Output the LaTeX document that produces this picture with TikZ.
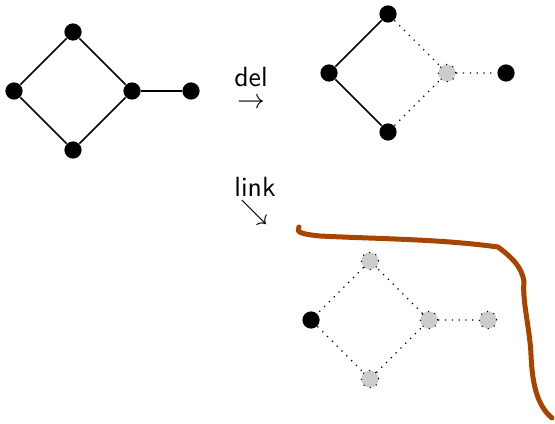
\documentclass[tikz,border=0pt]{standalone}
\begin{document}
\begin{tikzpicture}[x=0.36pt,y=-0.36pt,
  vtx/.style={circle,fill=black,inner sep=0pt,minimum size=6.2pt},
  gvtx/.style={circle,fill=black!20,draw=black,dotted,inner sep=0pt,minimum size=6.2pt},
  edge/.style={line width=0.6pt},
  gone/.style={dotted,line width=0.45pt},
  lbl/.style={font=\sffamily,inner sep=0pt},
  stroke/.style={line width=1.8pt,draw={rgb,255:red,166;green,68;blue,0},line cap=round,line join=round}]
\useasboundingbox (0,0) rectangle (555,423);

% original graph
\node[vtx] (a1) at (73,32) {};
\node[vtx] (a2) at (14,91) {};
\node[vtx] (a3) at (132,91) {};
\node[vtx] (a4) at (73,150) {};
\node[vtx] (a5) at (191,91) {};
\draw[edge] (a1) -- (a2) (a2) -- (a4) (a4) -- (a3) (a3) -- (a1) (a3) -- (a5);

% deletion
\node[lbl,anchor=base] (del) at (251,86) {del};
\node[inner sep=0pt] (delarr) at (251,103) {$\rightarrow$};

\node[vtx] (b1) at (388,14) {};
\node[vtx] (b2) at (329,73) {};
\node[vtx] (b4) at (388,132) {};
\node[gvtx] (b3) at (447,73) {};
\node[vtx] (b5) at (506,73) {};
\draw[edge] (b1) -- (b2) (b2) -- (b4);
\draw[gone] (b1) -- (b3) (b4) -- (b3) (b3) -- (b5);

% link
\node[lbl,anchor=base] (link) at (255,196) {link};
\node[inner sep=0pt] (linkarr) at (254,213) {$\searrow$};

\node[gvtx] (c1) at (370,261) {};
\node[vtx] (c2) at (311,320) {};
\node[gvtx] (c4) at (370,379) {};
\node[gvtx] (c3) at (429,320) {};
\node[gvtx] (c5) at (488,320) {};
\draw[gone] (c1) -- (c2) (c2) -- (c4) (c4) -- (c3) (c3) -- (c1) (c3) -- (c5);

% hand-drawn stroke
\draw[stroke] (299,227) .. controls (296,232) and (300,234) .. (320,236)
  .. controls (380,239) and (440,239) .. (498,247)
  .. controls (510,256) and (522,266) .. (524,282)
  .. controls (522,300) and (530,330) .. (531,355)
  .. controls (532,380) and (536,405) .. (552,418);
\end{tikzpicture}
\end{document}
